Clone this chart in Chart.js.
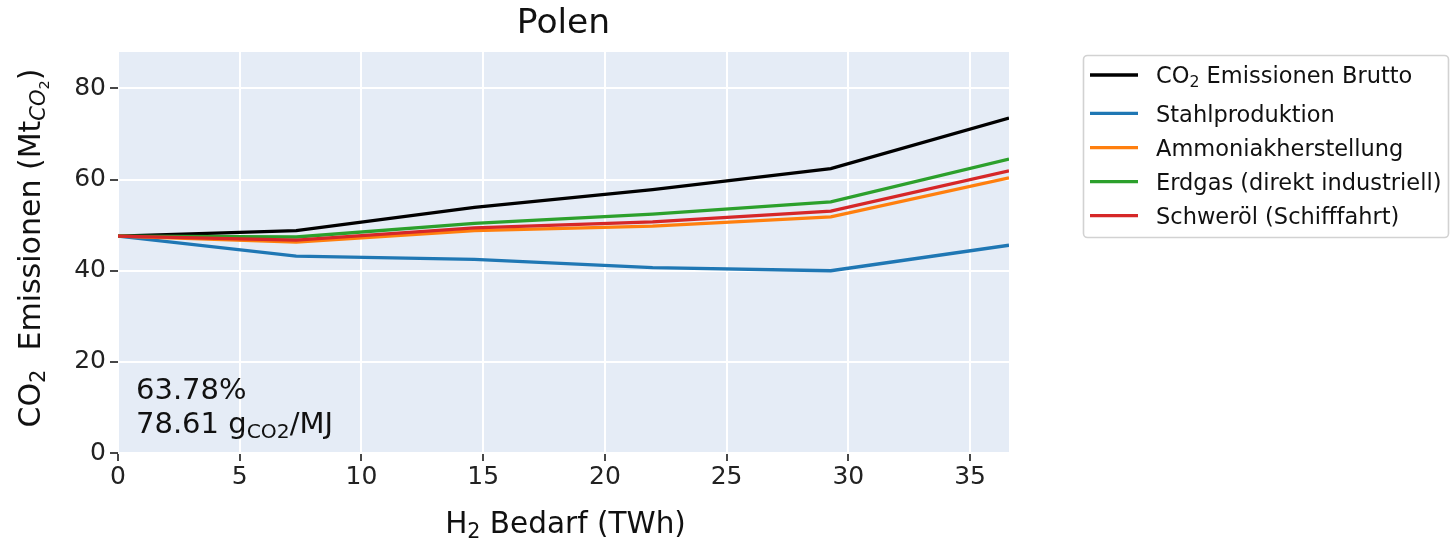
<!DOCTYPE html>
<html><head><meta charset="utf-8">
<script src="https://cdn.jsdelivr.net/npm/chart.js@4.4.1/dist/chart.umd.min.js"></script>
<style>html,body{margin:0;padding:0;background:#fff;}canvas{display:block;}</style>
</head><body>
<canvas id="c" width="1450" height="544"></canvas>
<script>
// ---- data ----
const h2Bedarf   = [0, 7.32, 14.64, 21.96, 29.28, 36.6];
const brutto     = [47.6, 48.8, 53.9, 57.8, 62.4, 73.5];
const stahl      = [47.6, 43.2, 42.5, 40.7, 40.0, 45.6];
const ammoniak   = [47.6, 46.3, 48.8, 49.8, 51.8, 60.4];
const erdgas     = [47.6, 47.4, 50.4, 52.4, 55.1, 64.5];
const schweroel  = [47.6, 46.7, 49.4, 50.7, 53.1, 61.9];
const seriesNames = ["CO2 Emissionen Brutto", "Stahlproduktion", "Ammoniakherstellung", "Erdgas (direkt industriell)", "Schweröl (Schifffahrt)"];
const xTicks = [0, 5, 10, 15, 20, 25, 30, 35];
const yTicks = [0, 20, 40, 60, 80];
const titleText = "Polen";
const shareText = "63.78%";
const intensityValue = "78.61";

const FONT = '"DejaVu Sans", "Liberation Sans", sans-serif';
const colors = ["#000000", "#1f77b4", "#ff7f0e", "#2ca02c", "#d62728"];
const allSeries = [brutto, stahl, ammoniak, erdgas, schweroel];

function toPts(arr){ return h2Bedarf.map((x,i)=>({x:x, y:arr[i]})); }

const datasets = allSeries.map((s,i)=>({
  label: seriesNames[i],
  data: toPts(s),
  borderColor: colors[i],
  backgroundColor: colors[i],
  borderWidth: 3.3,
  pointRadius: 0,
  tension: 0,
  fill: false,
  order: 5 - i
}));

function fontFor(p, size){
  const s = size * Math.pow(0.7, p.sub||0);
  return (p.italic ? 'italic ' : '') + s.toFixed(2) + 'px ' + FONT;
}
function richWidth(ctx, parts, size){
  let w = 0;
  for (const p of parts){ ctx.font = fontFor(p,size); w += ctx.measureText(p.t).width; }
  return w;
}
function drawRich(ctx, parts, x, y, size, align){
  const w = richWidth(ctx, parts, size);
  let cx = align === 'center' ? x - w/2 : (align === 'right' ? x - w : x);
  ctx.textBaseline = 'alphabetic';
  ctx.textAlign = 'left';
  for (const p of parts){
    ctx.font = fontFor(p,size);
    let dy = 0;
    if ((p.sub||0) >= 1) dy += 0.17*size;
    if ((p.sub||0) >= 2) dy += 0.17*size*0.7;
    ctx.fillText(p.t, cx, y + dy);
    cx += ctx.measureText(p.t).width;
  }
}

const bgPlugin = {
  id: 'bg',
  beforeDraw(chart){
    const {ctx, chartArea:a} = chart;
    ctx.save();
    ctx.fillStyle = '#E5ECF6';
    ctx.fillRect(a.left, a.top, a.right-a.left, a.bottom-a.top);
    ctx.restore();
  }
};

const textPlugin = {
  id: 'texts',
  afterDraw(chart){
    const {ctx, chartArea:a} = chart;
    ctx.save();
    ctx.fillStyle = '#111';
    // title
    drawRich(ctx, [{t:titleText}], (a.left+a.right)/2, 33, 34.5, 'center');
    // x label
    drawRich(ctx, [{t:'H'},{t:'2',sub:1},{t:' Bedarf (TWh)'}], (a.left+a.right)/2 + 2, 533, 29.5, 'center');
    // y label
    ctx.save();
    ctx.translate(40, 248);
    ctx.rotate(-Math.PI/2);
    drawRich(ctx, [{t:'CO'},{t:'2',sub:1},{t:'  Emissionen (Mt'},{t:'CO',sub:1,italic:true},{t:'2',sub:2},{t:')'}], 0, 0, 30, 'center');
    ctx.restore();
    // annotation
    drawRich(ctx, [{t:shareText}], 136, 399, 29, 'left');
    drawRich(ctx, [{t:intensityValue + ' g'},{t:'CO2',sub:1},{t:'/MJ'}], 136, 433, 29, 'left');
    // legend
    const lx = 1083, ly = 55, lw = 365, lh = 182;
    ctx.beginPath();
    ctx.roundRect(lx+0.5, ly+0.5, lw, lh, 4);
    ctx.fillStyle = 'rgba(255,255,255,0.9)';
    ctx.fill();
    ctx.strokeStyle = '#d2d2d2';
    ctx.lineWidth = 1.6;
    ctx.stroke();
    const rowsY = [75, 113.3, 147.7, 181.7, 215.7];
    const labels = [
      [{t:'CO'},{t:'2',sub:1},{t:' Emissionen Brutto'}],
      [{t:seriesNames[1]}],
      [{t:seriesNames[2]}],
      [{t:seriesNames[3]}],
      [{t:seriesNames[4]}]
    ];
    for (let i=0;i<5;i++){
      ctx.beginPath();
      ctx.moveTo(1090, rowsY[i]);
      ctx.lineTo(1138, rowsY[i]);
      ctx.strokeStyle = colors[i];
      ctx.lineWidth = 3.3;
      ctx.stroke();
      ctx.fillStyle = '#111';
      drawRich(ctx, labels[i], 1156, rowsY[i] + 8.2, 22.5, 'left');
    }
    ctx.restore();
  }
};

new Chart(document.getElementById('c'), {
  type: 'line',
  data: { datasets },
  options: {
    responsive: false,
    animation: false,
    devicePixelRatio: 1,
    layout: { padding: { left: 0, top: 52, right: 441, bottom: 0 } },
    plugins: { legend: { display: false }, title: { display: false }, tooltip: { enabled: false } },
    scales: {
      x: {
        type: 'linear',
        min: 0, max: 36.6,
        afterBuildTicks: s => { s.ticks = xTicks.map(v => ({value: v})); },
        afterFit: s => { s.height = 91; },
        grid: { color: '#ffffff', lineWidth: 2, tickColor: '#333', tickLength: 8, tickWidth: 1.8 },
        border: { display: false },
        ticks: { font: { family: FONT, size: 25 }, color: '#222', padding: 1, maxRotation: 0, autoSkip: false }
      },
      y: {
        type: 'linear',
        min: 0, max: 88,
        afterBuildTicks: s => { s.ticks = yTicks.map(v => ({value: v})); },
        afterFit: s => { s.width = 118; },
        grid: { color: '#ffffff', lineWidth: 2, tickColor: '#333', tickLength: 8, tickWidth: 1.8 },
        border: { display: false },
        ticks: { font: { family: FONT, size: 25 }, color: '#222', padding: 4, autoSkip: false }
      }
    }
  },
  plugins: [bgPlugin, textPlugin]
});
</script>
</body></html>
